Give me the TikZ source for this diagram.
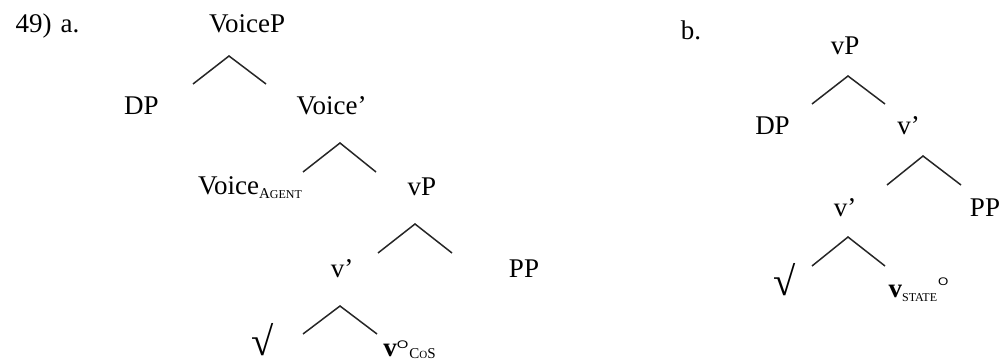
\documentclass[tikz,border=0pt]{standalone}
\usepackage{fontspec}
\setmainfont{Liberation Serif}
\newfontfamily\circfont{Liberation Sans}
\begin{document}
\begin{tikzpicture}[x=1pt,y=-1pt,
  lab/.style={anchor=base,inner sep=0pt,font=\fontsize{27}{30}\selectfont},
  branch/.style={line width=1.5pt,draw=black!85}]
\useasboundingbox (0,0) rectangle (1001,363);
% ---------- tree a ----------
\node[lab] (ex) at (47.5,33) {49)\hspace{9pt}a.};
\node[lab] (VoiceP) at (247,33) {VoiceP};
\node[lab] (DPa) at (141.5,115) {DP};
\node[lab] (Voicebar) at (331.5,115) {Voice’};
\node[lab] (VoiceAg) at (250,195) {Voice\raisebox{-4pt}{\fontsize{15}{15}\selectfont A\fontsize{12}{12}\selectfont GENT}};
\node[lab] (vPa) at (422,196) {vP};
\node[lab] (vbara) at (342,278) {v’};
\node[lab] (PPa) at (524,278) {PP};
\node[lab] (roota) at (263,355) {\scalebox{1.5}{√}};
\node[lab] (vCoS) at (409.5,356) {\textbf{v}\raisebox{8pt}{\circfont\fontsize{11}{11}\selectfont\scalebox{1.35}[1]{O}}\hspace{1pt}\raisebox{-2.5pt}{\fontsize{15}{15}\selectfont C\fontsize{11}{11}\selectfont O\fontsize{15}{15}\selectfont S}};
% branches a
\coordinate (a1p) at (229,56);  \coordinate (a1l) at (193,84);  \coordinate (a1r) at (266,84);
\coordinate (a2p) at (340,143); \coordinate (a2l) at (303,172); \coordinate (a2r) at (376,172);
\coordinate (a3p) at (415,224); \coordinate (a3l) at (378,253); \coordinate (a3r) at (452,253);
\coordinate (a4p) at (340,306); \coordinate (a4l) at (303,334); \coordinate (a4r) at (377,334);
\draw[branch] (a1l) -- (a1p) -- (a1r);
\draw[branch] (a2l) -- (a2p) -- (a2r);
\draw[branch] (a3l) -- (a3p) -- (a3r);
\draw[branch] (a4l) -- (a4p) -- (a4r);
% ---------- tree b ----------
\node[lab] (exb) at (691,40) {b.};
\node[lab] (vPb) at (845,55) {vP};
\node[lab] (DPb) at (772.5,135) {DP};
\node[lab] (vbarb) at (908.5,135) {v’};
\node[lab] (vbarb2) at (845,217) {v’};
\node[lab] (PPb) at (985,217) {PP};
\node[lab] (rootb) at (785,296) {\scalebox{1.5}{√}};
\node[lab] (vState) at (918.5,298) {\textbf{v}\raisebox{-4pt}{\fontsize{12}{12}\selectfont STATE}\hspace{1pt}\raisebox{12pt}{\circfont\fontsize{11}{11}\selectfont\scalebox{1.2}[1]{O}}};
\coordinate (b1p) at (848,76);  \coordinate (b1l) at (812,104); \coordinate (b1r) at (885,104);
\coordinate (b2p) at (923,156); \coordinate (b2l) at (887,185); \coordinate (b2r) at (961,185);
\coordinate (b3p) at (848,237); \coordinate (b3l) at (812,266); \coordinate (b3r) at (885,266);
\draw[branch] (b1l) -- (b1p) -- (b1r);
\draw[branch] (b2l) -- (b2p) -- (b2r);
\draw[branch] (b3l) -- (b3p) -- (b3r);
\end{tikzpicture}
\end{document}
